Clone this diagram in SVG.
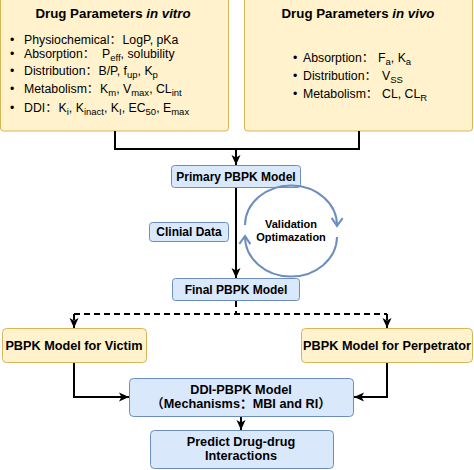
<svg xmlns="http://www.w3.org/2000/svg" width="474" height="470" viewBox="0 0 474 470">
<defs>
<marker id="ah" markerUnits="userSpaceOnUse" markerWidth="12" markerHeight="12" viewBox="0 0 12 12" refX="11" refY="6" orient="auto">
<path d="M1,1.5 L11,6 L1,10.5 L3.5,6 Z" fill="#000"/>
</marker>
<marker id="ob" markerUnits="userSpaceOnUse" markerWidth="14" markerHeight="14" viewBox="0 0 14 14" refX="12" refY="7" orient="auto">
<path d="M4,1.5 L12,7 L4,12.5" fill="none" stroke="#6c8ebf" stroke-width="2"/>
</marker>
</defs>
<style>
.y{fill:#fff2cc;stroke:#d6b656;stroke-width:1}
.b{fill:#dae8fc;stroke:#6c8ebf;stroke-width:1}
text{font-family:"Liberation Sans","Noto Sans CJK SC",Arial,sans-serif;fill:#000}
.t{font-size:13.3px;font-weight:bold;text-anchor:middle}
.l{font-size:12.3px}
.s{font-size:9.5px}
.m{font-size:12px;font-weight:bold;text-anchor:middle}
.n{font-size:12.7px;font-weight:bold;text-anchor:middle}
.v{font-size:11px;font-weight:bold;text-anchor:middle}
.c{stroke:#000;stroke-width:2;fill:none}
.a{stroke:#6c8ebf;stroke-width:2;fill:none}
</style>
<g id="vitro">
<rect class="y" x="0.5" y="-3" width="228" height="134" rx="3"/>
<text class="t" x="113" y="17.5">Drug Parameters <tspan font-style="italic">in vitro</tspan></text>
<text class="l" x="10" y="43.5">•</text>
<text class="l" x="24" y="43.5">Physiochemical：<tspan x="122.5">LogP, pKa</tspan></text>
<text class="l" x="10" y="57.5">•</text>
<text class="l" x="24" y="57.5">Absorption：<tspan x="102">P</tspan><tspan class="s" dy="3">eff</tspan><tspan dy="-3">, solubility</tspan></text>
<text class="l" x="10" y="75">•</text>
<text class="l" x="24" y="75">Distribution：<tspan x="98.5">B/P, f</tspan><tspan class="s" dy="3">up</tspan><tspan dy="-3">, K</tspan><tspan class="s" dy="3">p</tspan></text>
<text class="l" x="10" y="92.5">•</text>
<text class="l" x="24" y="92.5">Metabolism：<tspan x="100">K</tspan><tspan class="s" dy="3">m</tspan><tspan dy="-3">, V</tspan><tspan class="s" dy="3">max</tspan><tspan dy="-3">, CL</tspan><tspan class="s" dy="3">int</tspan></text>
<text class="l" x="10" y="111.5">•</text>
<text class="l" x="24" y="111.5">DDI：<tspan x="58.5">K</tspan><tspan class="s" dy="3">i</tspan><tspan dy="-3">, K</tspan><tspan class="s" dy="3">inact</tspan><tspan dy="-3">, K</tspan><tspan class="s" dy="3">I</tspan><tspan dy="-3">, EC</tspan><tspan class="s" dy="3">50</tspan><tspan dy="-3">, E</tspan><tspan class="s" dy="3">max</tspan></text>
</g>
<g id="vivo">
<rect class="y" x="244.5" y="-3" width="228" height="134" rx="3"/>
<text class="t" x="358" y="17.5">Drug Parameters <tspan font-style="italic">in vivo</tspan></text>
<text class="l" x="293" y="62">•</text>
<text class="l" x="303" y="62">Absorption：<tspan x="378">F</tspan><tspan class="s" dy="3">a</tspan><tspan dy="-3">, K</tspan><tspan class="s" dy="3">a</tspan></text>
<text class="l" x="293" y="79.5">•</text>
<text class="l" x="303" y="79.5">Distribution：<tspan x="382">V</tspan><tspan class="s" dy="3">SS</tspan></text>
<text class="l" x="293" y="98">•</text>
<text class="l" x="303" y="98">Metabolism：<tspan x="382">CL, CL</tspan><tspan class="s" dy="3">R</tspan></text>
</g>
<g id="primary">
<rect class="b" x="171.5" y="165.5" width="129" height="22" rx="3"/>
<text class="m" x="236" y="180.5">Primary PBPK Model</text>
</g>
<g id="clinical">
<rect class="b" x="149.5" y="222.5" width="79" height="19" rx="3"/>
<text class="m" x="189" y="236">Clinial Data</text>
</g>
<g id="validation">
<text class="v" x="291" y="227.5">Validation</text>
<text class="v" x="291" y="241">Optimazation</text>
</g>
<g id="final">
<rect class="b" x="172.5" y="278.5" width="127" height="22" rx="3"/>
<text class="m" x="236" y="293.5">Final PBPK Model</text>
</g>
<g id="victim">
<rect class="y" x="2.5" y="328.5" width="144" height="34" rx="4"/>
<text class="n" x="74" y="350">PBPK Model for Victim</text>
</g>
<g id="perpetrator">
<rect class="y" x="301.5" y="328.5" width="171" height="34" rx="4"/>
<text class="n" x="387" y="350">PBPK Model for Perpetrator</text>
</g>
<g id="ddi">
<rect class="b" x="129.5" y="378.5" width="224" height="38" rx="4"/>
<text class="n" x="241" y="393.5">DDI-PBPK Model</text>
<text class="n" x="241" y="407.5">（Mechanisms：MBI and RI）</text>
</g>
<g id="predict">
<rect class="b" x="150.5" y="430.5" width="183" height="38" rx="4"/>
<text class="n" x="241" y="446">Predict Drug-drug</text>
<text class="n" x="241" y="460">Interactions</text>
</g>
<g id="connectors">
<path class="c" d="M115,131 V149 H359 V131"/>
<path class="c" d="M236,149 V165" marker-end="url(#ah)"/>
<path class="c" d="M236,188 V278" marker-end="url(#ah)"/>
<path class="a" d="M245,225 A46,40 0 0 1 337,226" marker-end="url(#ob)"/>
<path class="a" d="M337,237 A46,40 0 0 1 245,236" marker-end="url(#ob)"/>
<path class="c" d="M236,301 V314 M74,314 H387" stroke-dasharray="6 4"/>
<path class="c" d="M74,314 V328" stroke-dasharray="6 4" marker-end="url(#ah)"/>
<path class="c" d="M387,314 V328" stroke-dasharray="6 4" marker-end="url(#ah)"/>
<path class="c" d="M74,363 V397 H129" marker-end="url(#ah)"/>
<path class="c" d="M387,363 V397 H354" marker-end="url(#ah)"/>
<path class="c" d="M241,417 V430" marker-end="url(#ah)"/>
</g>
</svg>
